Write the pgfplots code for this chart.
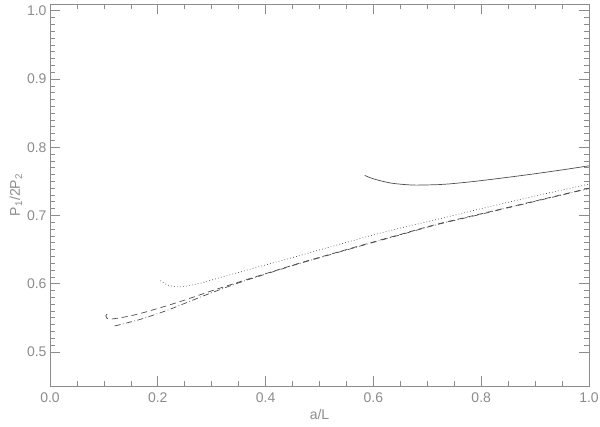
\documentclass[border=0pt]{standalone}
\usepackage{pgfplots}
\pgfplotsset{compat=1.18}
\usepackage{fontspec}
\setmainfont{Liberation Sans}
\definecolor{axgray}{gray}{0.55}
\definecolor{txtgray}{gray}{0.55}
\definecolor{curve}{gray}{0.3}
\begin{document}
\begin{tikzpicture}
\path[use as bounding box] (-50pt,-40pt) rectangle (550pt,386pt);
\begin{axis}[
    at={(0pt,0pt)}, anchor=south west,
    scale only axis, width=539pt, height=382pt,
    xmin=0, xmax=1, ymin=0.45, ymax=1.01,
    xtick={0,0.2,...,1.0}, ytick={0.5,0.6,...,1.0},
    minor x tick num=3, minor y tick num=9,
    tick align=inside, major tick length=10pt, minor tick length=5pt,
    axis line style={axgray, line width=0.8pt},
    every tick/.style={axgray, line width=0.7pt},
    tick label style={font=\fontsize{14}{16}\selectfont, color=txtgray},
    label style={font=\fontsize{14}{16}\selectfont, color=txtgray},
    /pgf/number format/assume math mode=true,
    /pgf/number format/.cd, fixed, fixed zerofill, precision=1, /pgfplots/.cd,
    xticklabel style={yshift=-3pt},
    xlabel={a/L}, ylabel={P\textsubscript{1}/2P\textsubscript{2}},
    xlabel style={yshift=0pt},
    ylabel style={yshift=-2pt},
    clip=true,
]
% solid
\addplot[curve, line width=0.7pt, smooth] coordinates {
(0.584,0.7587) (0.60,0.7537) (0.631,0.7477) (0.66,0.7452) (0.68,0.7445)
(0.72,0.7452) (0.74,0.7462) (0.78,0.7493) (0.82,0.7530) (0.86,0.7570)
(0.90,0.7612) (0.95,0.7668) (1.0,0.7728)
};
% dotted
\addplot[curve, line width=0.7pt, dash pattern=on 0.7pt off 2.3pt, smooth] coordinates {
(0.205,0.6045) (0.213,0.6000) (0.223,0.5968) (0.235,0.5957) (0.25,0.5960)
(0.28,0.6010) (0.309,0.6075) (0.35,0.6165) (0.40,0.6275) (0.458,0.6400)
(0.50,0.6495) (0.55,0.6605) (0.60,0.6715) (0.65,0.6815) (0.717,0.6940)
(0.80,0.7100) (0.90,0.7285) (1.0,0.7460)
};
% dashed
\addplot[curve, line width=0.7pt, dash pattern=on 6pt off 4pt, smooth] coordinates {
(0.106,0.5555) (0.1035,0.5525) (0.106,0.5490) (0.112,0.5480) (0.13,0.5500)
(0.15,0.5530) (0.173,0.5575) (0.216,0.5675) (0.25,0.5760) (0.30,0.5895)
(0.35,0.6023) (0.40,0.6147) (0.458,0.6290) (0.50,0.6386) (0.55,0.6500)
(0.60,0.6612) (0.65,0.6722) (0.717,0.6870) (0.80,0.7025) (0.90,0.7212)
(1.0,0.7400)
};
% dash-dot
\addplot[curve, line width=0.7pt, dash pattern=on 6pt off 2.5pt on 0.7pt off 2.5pt, smooth] coordinates {
(0.12,0.5380) (0.15,0.5440) (0.173,0.5490) (0.216,0.5605) (0.25,0.5712)
(0.30,0.5868) (0.35,0.6012) (0.40,0.6140) (0.458,0.6284) (0.50,0.6380)
(0.55,0.6494) (0.60,0.6606) (0.65,0.6716) (0.717,0.6864) (0.80,0.7019)
(0.90,0.7207) (1.0,0.7395)
};
\end{axis}
\end{tikzpicture}
\end{document}
